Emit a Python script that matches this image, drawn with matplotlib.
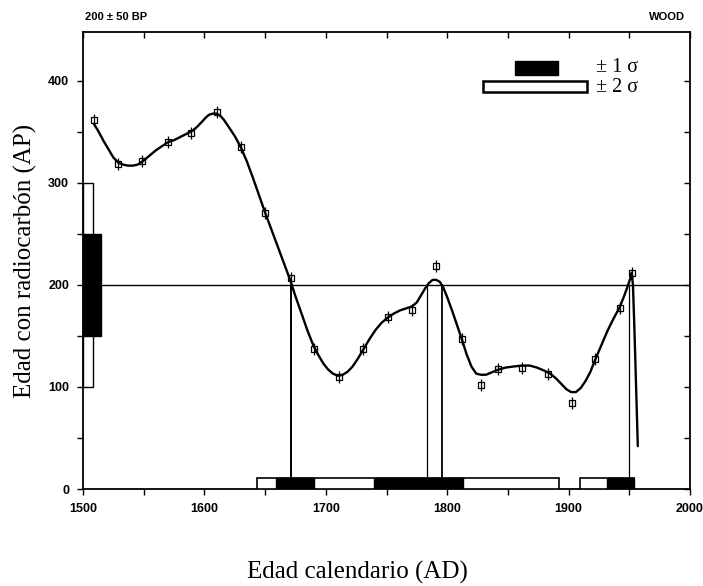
import matplotlib
matplotlib.use("Agg")
import matplotlib.pyplot as plt
from matplotlib import font_manager
from matplotlib.patches import Rectangle
from matplotlib.ticker import MultipleLocator

# ---- data ----
point_years = [1509, 1529, 1549, 1570, 1589, 1610, 1630, 1650, 1671, 1690, 1711, 1731,
               1751, 1771, 1791, 1812, 1828, 1842, 1862, 1883, 1903, 1922, 1942, 1952]
point_bp = [362, 319, 322, 340, 349, 370, 335, 271, 207, 137, 110, 137,
            169, 175, 219, 147, 102, 118, 119, 113, 84, 127, 177, 212]

curve_years = [1509, 1513, 1517, 1521, 1525, 1529, 1533, 1537, 1541, 1545, 1550, 1555,
               1560, 1565, 1570, 1575, 1580, 1585, 1590, 1594, 1598, 1601, 1604, 1607,
               1610, 1613, 1616, 1620, 1625, 1630, 1635, 1640, 1645, 1650, 1655, 1660,
               1665, 1670, 1675, 1680, 1685, 1690, 1694, 1698, 1702, 1706, 1710, 1714,
               1718, 1722, 1726, 1731, 1736, 1741, 1746, 1751, 1756, 1761, 1766, 1771,
               1775, 1779, 1782, 1785, 1788, 1791, 1794, 1797, 1800, 1804, 1808, 1812,
               1816, 1820, 1824, 1828, 1832, 1836, 1842, 1848, 1854, 1862, 1868, 1874,
               1880, 1885, 1890, 1894, 1898, 1902, 1906, 1910, 1914, 1918, 1922, 1927,
               1932, 1937, 1942, 1946, 1949, 1951, 1952, 1953, 1954, 1955, 1957]
curve_bp = [358, 350, 341, 333, 325, 320, 318, 317, 317, 318, 322, 327,
            332, 336, 340, 342, 345, 348, 351, 355, 360, 364, 367, 368,
            368, 366, 362, 355, 346, 335, 321, 305, 288, 271, 255, 239,
            223, 207, 189, 172, 155, 140, 131, 123, 117, 113, 111, 112,
            115, 120, 127, 137, 147, 156, 163, 168, 172, 175, 177, 179,
            183, 191, 197, 202, 205, 205, 203, 197, 188, 175, 161, 147,
            132, 120, 113, 112, 112, 114, 117, 119, 120, 121, 121, 119,
            116, 113, 108, 103, 98, 95, 95, 99, 106, 115, 127, 141,
            155, 167, 178, 190, 200, 207, 212, 200, 165, 125, 42]

sample_bp = 200
sigma1_bp = (150, 250)
sigma2_bp = (100, 300)
intercept_years = [1671, 1783, 1796, 1950]
sigma2_ranges = [(1643, 1892), (1909, 1954)]
sigma1_ranges = [(1659, 1690), (1740, 1813), (1932, 1954)]

x_ticks = [1500, 1600, 1700, 1800, 1900, 2000]
y_ticks = [0, 100, 200, 300, 400]

# ---- fonts ----
names = {f.name for f in font_manager.fontManager.ttflist}
tick_font = "Liberation Sans Narrow" if "Liberation Sans Narrow" in names else "Liberation Sans"
serif_font = "Liberation Serif"

fig = plt.figure(figsize=(7.03, 5.86), dpi=100)
ax = fig.add_axes([83/703, 1 - 489/586, (690 - 83)/703, (489 - 32)/586])
ax.set_xlim(1500, 2000)
ax.set_ylim(0, 448)

# calibration curve
ax.plot(curve_years, curve_bp, color="black", lw=1.7, zorder=3,
        solid_joinstyle="round", solid_capstyle="round")
# data points: square + vertical tick
ax.plot(point_years, point_bp, ls="none", marker="s", ms=4.5, mfc="none", mec="black",
        mew=0.9, zorder=4)
ax.plot(point_years, point_bp, ls="none", marker="|", ms=9, mec="black", mew=0.9, zorder=4)

# sample level line
ax.plot([1515, 2000], [sample_bp, sample_bp], color="black", lw=1.0, zorder=2)

# intercept verticals
bar_top = 11
widths = [1.4, 0.9, 1.3, 0.9]
for yr, w in zip(intercept_years, widths):
    ax.plot([yr, yr], [bar_top, sample_bp], color="black", lw=w, zorder=2)

# left sigma bars on the y axis
ax.add_patch(Rectangle((1500, sigma2_bp[0]), 8, sigma2_bp[1] - sigma2_bp[0],
                       fc="white", ec="black", lw=1.0, zorder=5, clip_on=False))
ax.add_patch(Rectangle((1500, sigma1_bp[0]), 15, sigma1_bp[1] - sigma1_bp[0],
                       fc="black", ec="black", lw=1.0, zorder=6, clip_on=False))

# bottom calendar ranges
for a, b in sigma2_ranges:
    ax.add_patch(Rectangle((a, 0), b - a, bar_top, fc="white", ec="black", lw=1.2, zorder=5))
for a, b in sigma1_ranges:
    ax.add_patch(Rectangle((a, 0), b - a, bar_top, fc="black", ec="black", lw=1.0, zorder=6))

# legend drawn in axes coordinates
fx = lambda px: (px - 83) / (690 - 83)
fy = lambda py: (489 - py) / (489 - 32)
ax.add_patch(Rectangle((fx(515), fy(74.5)), fx(558) - fx(515), fy(61.5) - fy(74.5),
                       transform=ax.transAxes, fc="black", ec="black", lw=1, zorder=7))
ax.add_patch(Rectangle((fx(483), fy(92)), fx(587) - fx(483), fy(81) - fy(92),
                       transform=ax.transAxes, fc="white", ec="black", lw=1.8, zorder=7))
ax.text(fx(596), fy(67), "± 1 σ", transform=ax.transAxes,
        ha="left", va="center", fontsize=14.5, family=[serif_font, "DejaVu Serif"])
ax.text(fx(596), fy(88), "± 2 σ", transform=ax.transAxes, ha="left", va="center",
        fontsize=14.5, family=[serif_font, "DejaVu Serif"])

# ticks
ax.set_xticks(x_ticks)
ax.set_yticks(y_ticks)
ax.xaxis.set_minor_locator(MultipleLocator(50))
ax.yaxis.set_minor_locator(MultipleLocator(50))
ax.tick_params(axis="both", which="both", direction="out", length=4, width=1.0,
               labelsize=9, top=True, right=True)
for lab in ax.get_xticklabels() + ax.get_yticklabels():
    lab.set_fontfamily(tick_font)
    lab.set_fontweight("bold")
ax.tick_params(axis="x", pad=6)
ax.tick_params(axis="y", pad=6)
# inward ticks on top/right
for t in ax.xaxis.get_major_ticks() + ax.xaxis.get_minor_ticks():
    t.tick2line.set_marker(3)
for t in ax.yaxis.get_major_ticks() + ax.yaxis.get_minor_ticks():
    t.tick2line.set_marker(0)
for sp in ax.spines.values():
    sp.set_linewidth(1.3)

ax.set_ylabel("Edad con radiocarbón (AP)", fontsize=18, family=serif_font, labelpad=8)
fig.text(357/703, 1 - 572/586, "Edad calendario (AD)", ha="center", va="center",
         fontsize=18, family=serif_font)

fig.text(85/703, 1 - 17/586, "200 ± 50 BP", ha="left", va="center", fontsize=8,
         family=tick_font, fontweight="bold")
fig.text(685/703, 1 - 17/586, "WOOD", ha="right", va="center", fontsize=8,
         family=tick_font, fontweight="bold")

fig.savefig("out.png", dpi=100)
